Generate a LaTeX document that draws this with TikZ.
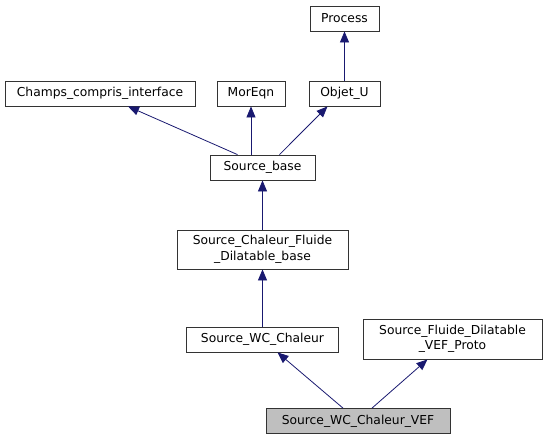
\documentclass[tikz,border=0pt]{standalone}
\usepackage{fontspec}
\setmainfont{DejaVu Sans}
\usetikzlibrary{arrows.meta}
\definecolor{edgeblue}{HTML}{191970}
\definecolor{boxgray}{HTML}{BFBFBF}

\begin{document}
\begin{tikzpicture}[x=1pt,y=-1pt,
        cls/.style={draw=black!80,line width=0.8pt,inner sep=0pt,align=center,font=\fontsize{12.3}{15.5}\selectfont,minimum height=25pt},
        inh/.style={edgeblue,line width=0.8pt,-{Triangle[length=11pt,width=9pt]}}]
        \useasboundingbox (0,0) rectangle (547,440);
        \node[cls,minimum width=69pt](process) at (344.5,18.5) {Process};
        \node[cls,minimum width=190pt](champs) at (100,93.5) {Champs\_compris\_interface};
        \node[cls,minimum width=68pt](moreqn) at (251,93.5) {MorEqn};
        \node[cls,minimum width=71pt](objet) at (344.5,93.5) {Objet\_U};
        \node[cls,minimum width=105pt](base) at (262.5,167.5) {Source\_base};
        \node[cls,minimum width=171pt,minimum height=39pt](dilbase) at (262.5,249.5) {Source\_Chaleur\_Fluide\\\_Dilatable\_base};
        \node[cls,minimum width=152pt](wc) at (262.5,339.5) {Source\_WC\_Chaleur};
        \node[cls,minimum width=179pt,minimum height=40pt](proto) at (452.5,339) {Source\_Fluide\_Dilatable\\\_VEF\_Proto};
        \node[cls,minimum width=184pt,fill=boxgray](vef) at (358,421) {Source\_WC\_Chaleur\_VEF};
        \draw[inh](objet)--(process);
        \draw[inh]([xshift=-25pt]base.north)--([xshift=28pt]champs.south);
        \draw[inh](base.north-|moreqn)--(moreqn);
        \draw[inh]([xshift=17pt]base.north)--([xshift=-17pt]objet.south);
        \draw[inh](dilbase)--(base);
        \draw[inh](wc)--(dilbase);
        \draw[inh]([xshift=-15pt]vef.north)--([xshift=15pt]wc.south);
        \draw[inh]([xshift=14pt]vef.north)--([xshift=-25pt]proto.south);
\end{tikzpicture}
\end{document}
